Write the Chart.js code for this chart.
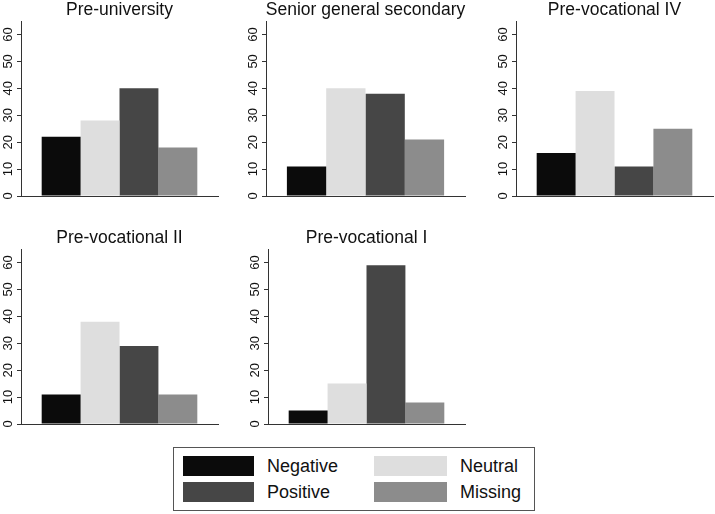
<!DOCTYPE html>
<html>
<head>
<meta charset="utf-8">
<script src="https://cdn.jsdelivr.net/npm/chart.js@4"></script>
<style>
  body { margin: 0; background: #fff; width: 715px; height: 514px; overflow: hidden; position: relative;
         font-family: "Liberation Sans", Arial, Helvetica, sans-serif; }
  .panel { position: absolute; height: 206px; }
  #p1 { left: 0;     top: 0;   width: 239px; }
  #p2 { left: 245px; top: 0;   width: 241px; }
  #p3 { left: 495px; top: 0;   width: 239px; }
  #p4 { left: 0;     top: 228px; width: 239px; }
  #p5 { left: 247px; top: 228px; width: 239px; }
  #legend { position: absolute; left: 173px; top: 447px; width: 360px; height: 62px;
            border: 1px solid #555; box-sizing: content-box; }
  #legend .grid { display: grid; grid-template-columns: 71px 120px 73px auto;
                  grid-auto-rows: 20px; row-gap: 6px; margin: 8px 0 0 9px; }
  #legend .sw { width: 100%; height: 20px; }
  #legend .lb { font-size: 18px; line-height: 20px; color: #111; padding-left: 13px; }
</style>
</head>
<body>
<div class="panel" id="p1"><canvas id="c1"></canvas></div>
<div class="panel" id="p2"><canvas id="c2"></canvas></div>
<div class="panel" id="p3"><canvas id="c3"></canvas></div>
<div class="panel" id="p4"><canvas id="c4"></canvas></div>
<div class="panel" id="p5"><canvas id="c5"></canvas></div>
<div id="legend"><div class="grid"></div></div>
<script>
// school types, one panel each
const schoolTypes = ['Pre-university', 'Senior general secondary', 'Pre-vocational IV', 'Pre-vocational II', 'Pre-vocational I'];
const responses = ['Negative', 'Neutral', 'Positive', 'Missing'];
const colors = ['#0b0b0b', '#dedede', '#464646', '#8c8c8c'];

// percentages per school type
const negative = [22, 11, 16, 11, 5];
const neutral  = [28, 40, 39, 38, 15];
const positive = [40, 38, 11, 29, 59];
const missing  = [18, 21, 25, 11, 8];

const yTicks = [0, 10, 20, 30, 40, 50, 60];

const series = [negative, neutral, positive, missing];
const fontFamily = '"Liberation Sans", Arial, Helvetica, sans-serif';
const axisColor = '#333';

function renderPanel(canvasId, idx) {
    var ctx = document.getElementById(canvasId).getContext('2d');
    new Chart(ctx, {
        type: 'bar',
        data: {
            labels: [schoolTypes[idx]],
            datasets: responses.map((name, i) => ({
                label: name,
                data: [series[i][idx]],
                backgroundColor: colors[i],
                borderWidth: 0
            }))
        },
        options: {
            responsive: true,
            maintainAspectRatio: false,
            animation: false,
            categoryPercentage: 0.79,
            barPercentage: 1,
            layout: { padding: 0 },
            plugins: {
                legend: { display: false },
                tooltip: { enabled: false },
                title: {
                    display: true,
                    text: schoolTypes[idx],
                    color: '#111',
                    padding: 0,
                    font: { family: fontFamily, size: 17.5, weight: 'normal', lineHeight: 1.2 }
                }
            },
            scales: {
                x: {
                    grid: { display: false },
                    ticks: { display: false },
                    border: { color: axisColor, width: 1 },
                    afterFit: s => { s.height = 10; }
                },
                y: {
                    min: 0,
                    max: 65,
                    afterBuildTicks: s => { s.ticks = yTicks.map(v => ({ value: v })); },
                    afterFit: s => { s.width = 21; },
                    ticks: {
                        minRotation: 90, maxRotation: 90,
                        crossAlign: 'center',
                        padding: 1,
                        color: '#111',
                        font: { family: fontFamily, size: 13 }
                    },
                    grid: { drawOnChartArea: false, drawTicks: true, tickLength: 4, color: axisColor },
                    border: { color: axisColor, width: 1 }
                },
                // empty right axis keeps the title centred over the plot
                y2: {
                    position: 'right',
                    grid: { display: false },
                    border: { display: false },
                    ticks: { display: false },
                    afterFit: s => { s.width = 21; }
                }
            }
        }
    });
}

['c1', 'c2', 'c3', 'c4', 'c5'].forEach((id, i) => renderPanel(id, i));

// legend, two columns
const grid = document.querySelector('#legend .grid');
responses.forEach((name, i) => {
    const sw = document.createElement('div');
    sw.className = 'sw';
    sw.style.background = colors[i];
    const lb = document.createElement('div');
    lb.className = 'lb';
    lb.textContent = name;
    grid.appendChild(sw);
    grid.appendChild(lb);
});
</script>
</body>
</html>
